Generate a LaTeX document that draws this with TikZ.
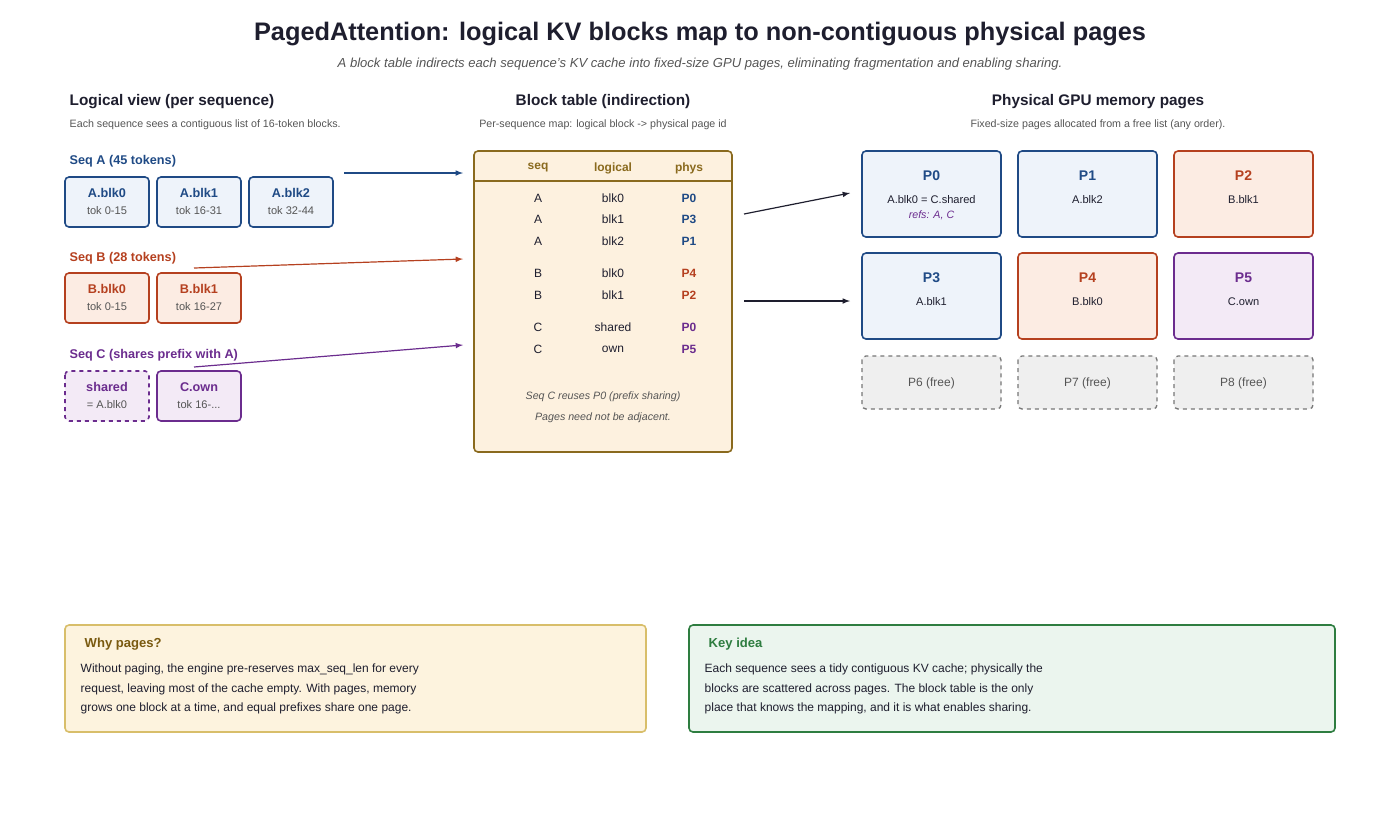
\documentclass[tikz,border=0pt]{standalone}
\usepackage{fontspec}
\setmainfont{Liberation Sans}
\definecolor{cb}{HTML}{1F4A85}\definecolor{fb}{HTML}{EEF3FA}
\definecolor{co}{HTML}{B5401F}\definecolor{fo}{HTML}{FCECE3}
\definecolor{cp}{HTML}{6B2C8E}\definecolor{fp}{HTML}{F3EAF6}
\definecolor{ct}{HTML}{8A6A1E}\definecolor{ft}{HTML}{FDF1DF}
\definecolor{cg}{HTML}{777777}\definecolor{fg}{HTML}{EFEFEF}
\definecolor{cgr}{HTML}{2E7D40}\definecolor{fgr}{HTML}{EBF5EE}
\definecolor{cy}{HTML}{D8BE6A}\definecolor{fy}{HTML}{FDF3DE}
\definecolor{tx}{HTML}{1E1E2E}\definecolor{sub}{HTML}{555555}
\definecolor{yt}{HTML}{7A5A10}
\begin{document}
\begin{tikzpicture}[x=0.75pt,y=-0.75pt,
 box/.style={rounded corners=3pt,line width=1.2pt},
 lb/.style={box,draw=#1,fill=f#1},
 arr/.style={-latex,line width=0.9pt},
 t/.style={font=\fontsize{9.5}{11}\selectfont\bfseries},
 s/.style={font=\fontsize{8.3}{10}\selectfont,text=sub},
 cell/.style={font=\fontsize{9}{11}\selectfont,text=tx},
 hd/.style={font=\fontsize{11.5}{13}\selectfont\bfseries,text=tx},
 nt/.style={font=\fontsize{8}{10}\selectfont,text=sub}]
\useasboundingbox (0,0) rectangle (1400,819);
\node[font=\fontsize{19}{22}\selectfont\bfseries,text=tx] (title) at (700,34) {PagedAttention: logical KV blocks map to non-contiguous physical pages};
\node[font=\fontsize{9.8}{12}\selectfont\itshape,text=sub] (subt) at (700,64) {A block table indirects each sequence's KV cache into fixed-size GPU pages, eliminating fragmentation and enabling sharing.};
% headings
\node[hd,anchor=west] (h1) at (65,102) {Logical view (per sequence)};
\node[nt,anchor=west] (h1s) at (65,125) {Each sequence sees a contiguous list of 16-token blocks.};
\node[hd] (h2) at (603,102) {Block table (indirection)};
\node[nt] (h2s) at (603,125) {Per-sequence map: logical block -> physical page id};
\node[hd] (h3) at (1098,102) {Physical GPU memory pages};
\node[nt] (h3s) at (1098,125) {Fixed-size pages allocated from a free list (any order).};
% logical
\node[t,text=cb,anchor=west] (sa) at (65,161) {Seq A (45 tokens)};
\node[t,text=co,anchor=west] (sb) at (65,258) {Seq B (28 tokens)};
\node[t,text=cp,anchor=west] (sc) at (65,355) {Seq C (shares prefix with A)};
\newcommand\lbox[7]{\draw[box,draw=#1,fill=#2] (#3,#4) rectangle ++(84,50);
 \node[t,text=#1] (#7t) at (#3+42,#4+16) {#5};
 \node[s] (#7s) at (#3+42,#4+34) {#6};}
\lbox{cb}{fb}{65}{177}{A.blk0}{tok 0-15}{a0}
\lbox{cb}{fb}{157}{177}{A.blk1}{tok 16-31}{a1}
\lbox{cb}{fb}{249}{177}{A.blk2}{tok 32-44}{a2}
\lbox{co}{fo}{65}{273}{B.blk0}{tok 0-15}{b0}
\lbox{co}{fo}{157}{273}{B.blk1}{tok 16-27}{b1}
\draw[box,draw=cp,fill=fp,dashed] (65,371) rectangle ++(84,50);
\node[t,text=cp] (c0t) at (107,387) {shared}; \node[s] (c0s) at (107,405) {= A.blk0};
\lbox{cp}{fp}{157}{371}{C.own}{tok 16-...}{c1}
% table
\draw[box,draw=ct,fill=ft] (474,151) rectangle (732,452);
\draw[ct,line width=1pt] (474,181) -- (732,181);
\foreach \x/\l in {538/seq,613/logical,689/phys}{\node[t,text=ct,font=\fontsize{9}{11}\selectfont\bfseries] at (\x,168) {\l};}
\foreach \y/\a/\b/\c/\col in {198/A/blk0/P0/cb,219/A/blk1/P3/cb,241/A/blk2/P1/cb,273/B/blk0/P4/co,295/B/blk1/P2/co,327/C/shared/P0/cp,349/C/own/P5/cp}{
 \node[cell] at (538,\y) {\a}; \node[cell] at (613,\y) {\b};
 \node[cell,text=\col,font=\fontsize{9}{11}\selectfont\bfseries] at (689,\y) {\c};}
\node[nt,font=\fontsize{8}{10}\selectfont\itshape] (n1) at (603,397) {Seq C reuses P0 (prefix sharing)};
\node[nt,font=\fontsize{8}{10}\selectfont\itshape] (n2) at (603,418) {Pages need not be adjacent.};
\coordinate (tA) at (463,173); \coordinate (tB) at (463,259); \coordinate (tC) at (463,345);
\coordinate (tp0) at (744,214); \coordinate (tp3) at (744,301);
% physical
\newcommand\pg[7]{\draw[box,draw=#1,fill=#2] (#3,#4) rectangle ++(139,86);
 \node[t,text=#1,font=\fontsize{10.5}{12}\selectfont\bfseries] (#7) at (#3+69.5,#4+25) {#5};
 \node[cell,font=\fontsize{8.3}{10}\selectfont] at (#3+69.5,#4+49) {#6};}
\pg{cb}{fb}{862}{151}{P0}{A.blk0 = C.shared}{p0}
\node[font=\fontsize{8}{10}\selectfont\itshape,text=cp] (refs) at (931.5,215) {refs: A, C};
\pg{cb}{fb}{1018}{151}{P1}{A.blk2}{p1}
\pg{co}{fo}{1174}{151}{P2}{B.blk1}{p2}
\pg{cb}{fb}{862}{253}{P3}{A.blk1}{p3}
\pg{co}{fo}{1018}{253}{P4}{B.blk0}{p4}
\pg{cp}{fp}{1174}{253}{P5}{C.own}{p5}
\foreach \x/\l in {862/P6,1018/P7,1174/P8}{
 \draw[box,draw=cg,fill=fg,dashed,line width=1pt] (\x,356) rectangle ++(139,53);
 \node[cell,text=sub] at (\x+69.5,383) {\l\ (free)};}
% arrows
\coordinate (sA) at (344,173); \coordinate (sB) at (194,268); \coordinate (sC) at (194,367);
\coordinate (eP0) at (850,193); \coordinate (eP3) at (850,301);
\draw[arr,cb] (sA) -- (tA);
\draw[arr,co] (sB) -- (tB);
\draw[arr,cp] (sC) -- (tC);
\draw[arr,tx] (tp0) -- (eP0);
\draw[arr,tx] (tp3) -- (eP3);
% bottom notes
\draw[box,draw=cy,fill=fy] (65,625) rectangle (646,732);
\node[t,text=yt,anchor=west,font=\fontsize{9.8}{12}\selectfont\bfseries] (w) at (80,644) {Why pages?};
\node[anchor=north west,align=left,font=\fontsize{9}{14.7}\selectfont,text=tx] (wt) at (76,659) {Without paging, the engine pre-reserves max\_seq\_len for every\\request, leaving most of the cache empty. With pages, memory\\grows one block at a time, and equal prefixes share one page.};
\draw[box,draw=cgr,fill=fgr] (689,625) rectangle (1335,732);
\node[t,text=cgr,anchor=west,font=\fontsize{9.8}{12}\selectfont\bfseries] (k) at (704,644) {Key idea};
\node[anchor=north west,align=left,font=\fontsize{9}{14.7}\selectfont,text=tx] (kt) at (700,659) {Each sequence sees a tidy contiguous KV cache; physically the\\blocks are scattered across pages. The block table is the only\\place that knows the mapping, and it is what enables sharing.};
\end{tikzpicture}
\end{document}
